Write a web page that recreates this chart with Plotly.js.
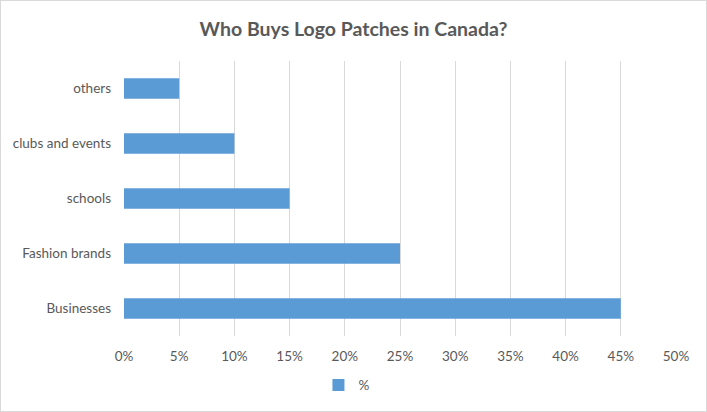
<!DOCTYPE html>
<html>
<head>
<meta charset="utf-8">
<script src="https://cdn.plot.ly/plotly-3.0.1.min.js"></script>
<style>
html,body{margin:0;padding:0;background:#fff;}
#chart{width:705px;height:410px;border:1px solid #d9d9d9;}
</style>
</head>
<body>
<div id="chart"></div>
<script>
const categories = ["Businesses", "Fashion brands", "schools", "clubs and events", "others"];
const values = [0.45, 0.25, 0.15, 0.10, 0.05];
const seriesName = "%";
const tickValues = [0, 0.05, 0.10, 0.15, 0.20, 0.25, 0.30, 0.35, 0.40, 0.45, 0.50];
const tickLabels = ["0%", "5%", "10%", "15%", "20%", "25%", "30%", "35%", "40%", "45%", "50%"];

const fontFam = "Lato, 'Open Sans', sans-serif";
const trace = {
  type: "bar",
  orientation: "h",
  y: categories,
  x: values,
  name: seriesName,
  marker: {color: "#5B9BD5"},
  showlegend: true,
  hoverinfo: "none"
};
const layout = {
  width: 705, height: 410,
  margin: {l: 123, r: 30, t: 60, b: 75},
  paper_bgcolor: "#fff", plot_bgcolor: "#fff",
  font: {family: fontFam, color: "#595959", size: 13.5},
  title: {text: "<b>Who Buys Logo Patches in Canada?</b>", x: 0.5, xanchor: "center",
          y: 0.932, yanchor: "middle", yref: "container",
          font: {family: fontFam, size: 19.5, color: "#595959"}},
  bargap: 0.63,
  xaxis: {range: [0, 0.5], tickvals: tickValues, ticktext: tickLabels,
          showgrid: true, gridcolor: "#d9d9d9", gridwidth: 1, zeroline: false,
          showline: false, ticks: "", ticklen: 0, fixedrange: true, ticklabelstandoff: 10,
          tickfont: {size: 13.5, color: "#595959"}},
  yaxis: {categoryorder: "array", categoryarray: categories, showgrid: false,
          zeroline: false, showline: false, ticks: "", ticklabelstandoff: 12,
          tickfont: {size: 13.5, color: "#595959"}},
  showlegend: true,
  legend: {orientation: "h", xref: "container", yref: "container", x: 0.49, xanchor: "center",
           y: 0.063, yanchor: "middle", font: {size: 13.5, color: "#595959"},
           itemwidth: 30}
};
Plotly.newPlot("chart", [trace], layout, {displayModeBar: false, staticPlot: true});
</script>
</body>
</html>
